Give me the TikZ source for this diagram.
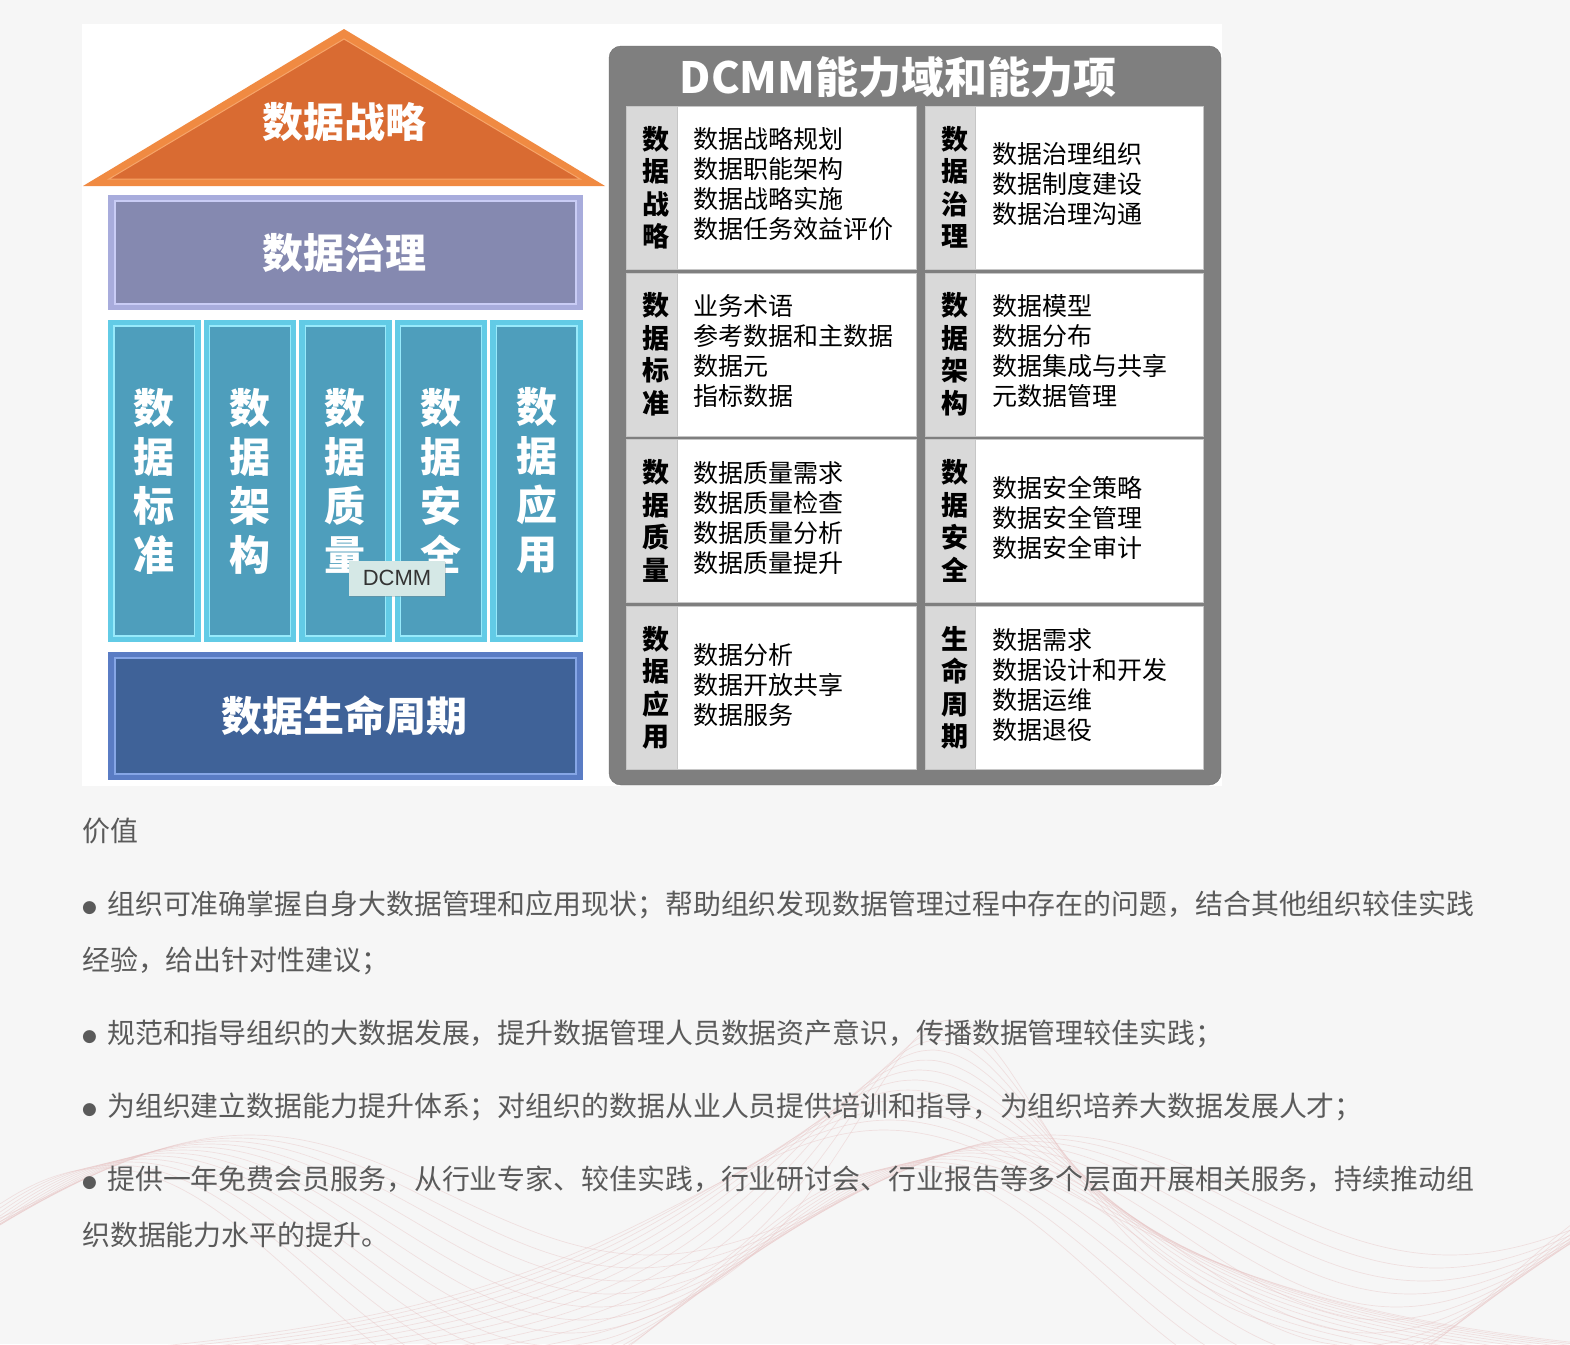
\documentclass[tikz,border=0pt]{standalone}
\usepackage{fontspec}
\setmainfont{Noto Sans CJK SC}
\newfontfamily\tipfont{Liberation Sans}
\newfontfamily\symfont{DejaVu Sans}
\usetikzlibrary{
  positioning,
  shadows
}
\definecolor{pagebg}{HTML}{F6F6F6}
\definecolor{roofrim}{HTML}{F08A42}
\definecolor{roofin}{HTML}{D96B32}
\definecolor{roofline}{HTML}{F6A56A}
\definecolor{govrim}{HTML}{A8ACDC}
\definecolor{govin}{HTML}{8589B0}
\definecolor{govline}{HTML}{C9CCF5}
\definecolor{pilrim}{HTML}{62CBE6}
\definecolor{pilin}{HTML}{4E9EBC}
\definecolor{pilline}{HTML}{98EAFB}
\definecolor{liferim}{HTML}{5A7CC4}
\definecolor{lifein}{HTML}{3F6298}
\definecolor{lifeline}{HTML}{86A6E6}
\definecolor{panelgray}{HTML}{7F7F7F}
\definecolor{panelline}{HTML}{6E6E6E}
\definecolor{labelgray}{HTML}{D9D9D9}
\definecolor{cellline}{HTML}{C6C6C6}
\definecolor{bodytext}{HTML}{5A5A5A}
\definecolor{wavepink}{HTML}{E8C4C4}
\definecolor{tipbg}{HTML}{D5E8E6}
\tikzstyle{bigword}=[text=white, font=\bfseries\fontsize{41}{49}\selectfont, inner sep=0pt, align=center]
\tikzstyle{paneltitle}=[text=white, font=\bfseries\fontsize{43}{50}\selectfont, inner sep=0pt]
\tikzstyle{areaname}=[font=\bfseries\fontsize{27}{32.5}\selectfont, inner sep=0pt, align=center]
\tikzstyle{itemlist}=[font=\fontsize{25}{30}\selectfont, inner sep=0pt, align=left, anchor=west]
\tikzstyle{bodyline}=[text=bodytext, font=\fontsize{27.9}{56}\selectfont, inner sep=0pt, anchor=base west]
\tikzstyle{tooltipbox}=[fill=tipbg, text=black!80, font=\tipfont\fontsize{22}{26}\selectfont,
  minimum width=96pt, minimum height=35pt, inner sep=0pt,
  drop shadow={shadow xshift=1pt, shadow yshift=-1.5pt, opacity=0.3}]
\tikzstyle{wave}=[wavepink, line width=0.7pt, opacity=0.45]
\newcommand{\bulletmark}{\makebox[25pt][l]{\raisebox{2.5pt}{\symfont\fontsize{17}{17}\selectfont ●}}}

\begin{document}
\begin{tikzpicture}[x=1pt, y=-1pt]
    % 背景
    \fill[pagebg] (0,0) rectangle (1570,1344);
    \useasboundingbox (0,0) rectangle (1570,1344);
    \begin{scope}
      \clip (0,0) rectangle (1570,1344);
      \foreach \i in {0,...,11}
        \draw[wave] plot[domain=0:1570, samples=90, smooth]
          (\x, {1390 - (370-10*\i)/(1+((\x-950+6*\i)/(150+16*\i))^2)});
      \foreach \i in {0,...,11}
        \draw[wave] plot[domain=0:1570, samples=90, smooth]
          (\x, {1195 + 8*\i - (60+5*\i)*cos(0.45*(\x-250) + 6*\i)});
    \end{scope}
    \fill[white] (82,24) rectangle (1222,786);

    % 数据战略（屋顶）
    \coordinate (roofL) at (83,186);
    \coordinate (roofT) at (344,29);
    \coordinate (roofR) at (605,186);
    \fill[roofrim] (roofL) -- (roofT) -- (roofR) -- cycle;
    \filldraw[fill=roofin, draw=roofline, line width=1pt] (109,179) -- (344,39) -- (580,179) -- cycle;
    \node[bigword] (strategy) at (344,122) {数据战略};

    % 数据治理
    \fill[govrim] (108,195) rectangle (583,310);
    \filldraw[fill=govin, draw=govline, line width=1.2pt] (115,201) rectangle (576,304);
    \node[bigword] (governance) at (344,253) {数据治理};

    % 五根柱子
    \foreach \k/\txt in {0/{数\\据\\标\\准}, 1/{数\\据\\架\\构}, 2/{数\\据\\质\\量},
                         3/{数\\据\\安\\全}, 4/{数\\据\\应\\用}} {
      \pgfmathsetmacro\px{108+95.6*\k}
      \fill[pilrim] (\px,320) rectangle +(92.5,322);
      \filldraw[fill=pilin, draw=pilline, line width=1.2pt] (\px+6,326) rectangle +(80.5,310);
      \node[bigword] (pillar-\k) at (\px+46.25,481) {\txt};
    }

    % 数据生命周期
    \fill[liferim] (108,652) rectangle (583,780);
    \filldraw[fill=lifein, draw=lifeline, line width=1.2pt] (115,658) rectangle (576,774);
    \node[bigword] (lifecycle) at (344,716) {数据生命周期};

    % 提示框
    \node[tooltipbox] (tooltip) at (397,578) {DCMM};

    % 右侧：能力域和能力项
    \filldraw[fill=panelgray, draw=panelline, rounded corners=12pt] (609,46) rectangle (1221,785);
    \node[paneltitle] (title) at (898,77) {DCMM能力域和能力项};
    \foreach \col/\row/\lab/\items in {
        0/0/{数\\据\\战\\略}/{数据战略规划\\数据职能架构\\数据战略实施\\数据任务效益评价},
        1/0/{数\\据\\治\\理}/{数据治理组织\\数据制度建设\\数据治理沟通},
        0/1/{数\\据\\标\\准}/{业务术语\\参考数据和主数据\\数据元\\指标数据},
        1/1/{数\\据\\架\\构}/{数据模型\\数据分布\\数据集成与共享\\元数据管理},
        0/2/{数\\据\\质\\量}/{数据质量需求\\数据质量检查\\数据质量分析\\数据质量提升},
        1/2/{数\\据\\安\\全}/{数据安全策略\\数据安全管理\\数据安全审计},
        0/3/{数\\据\\应\\用}/{数据分析\\数据开放共享\\数据服务},
        1/3/{生\\命\\周\\期}/{数据需求\\数据设计和开发\\数据运维\\数据退役}} {
      \pgfmathsetmacro\xa{626.5+298.5*\col}
      \pgfmathsetmacro\xb{\xa+50.5}
      \pgfmathsetmacro\xc{\xa+290-12*\col}
      \pgfmathsetmacro\ya{106+166.7*\row}
      \pgfmathsetmacro\yb{\ya+163}
      \pgfmathsetmacro\ym{(\ya+\yb)/2}
      \filldraw[fill=labelgray, draw=cellline] (\xa,\ya) rectangle (\xb,\yb);
      \filldraw[fill=white, draw=cellline] (\xb,\ya) rectangle (\xc,\yb);
      \node[areaname] (area-\col-\row) at (\xa+29.5,\ym) {\lab};
      \node[itemlist] (items-\col-\row) at (\xa+67,\ym-3) {\items};
    }

    % 价值
    \node[bodyline] (value) at (82,841.5) {价值};
    \node[bodyline] (p1a) at (82,914.5) {\bulletmark 组织可准确掌握自身大数据管理和应用现状；帮助组织发现数据管理过程中存在的问题，结合其他组织较佳实践};
    \node[bodyline] (p1b) at (82,970.5) {经验，给出针对性建议；};
    \node[bodyline] (p2) at (82,1043.5) {\bulletmark 规范和指导组织的大数据发展，提升数据管理人员数据资产意识，传播数据管理较佳实践；};
    \node[bodyline] (p3) at (82,1116.5) {\bulletmark 为组织建立数据能力提升体系；对组织的数据从业人员提供培训和指导，为组织培养大数据发展人才；};
    \node[bodyline] (p4a) at (82,1189.5) {\bulletmark 提供一年免费会员服务，从行业专家、较佳实践，行业研讨会、行业报告等多个层面开展相关服务，持续推动组};
    \node[bodyline] (p4b) at (82,1245.5) {织数据能力水平的提升。};
\end{tikzpicture}
\end{document}
